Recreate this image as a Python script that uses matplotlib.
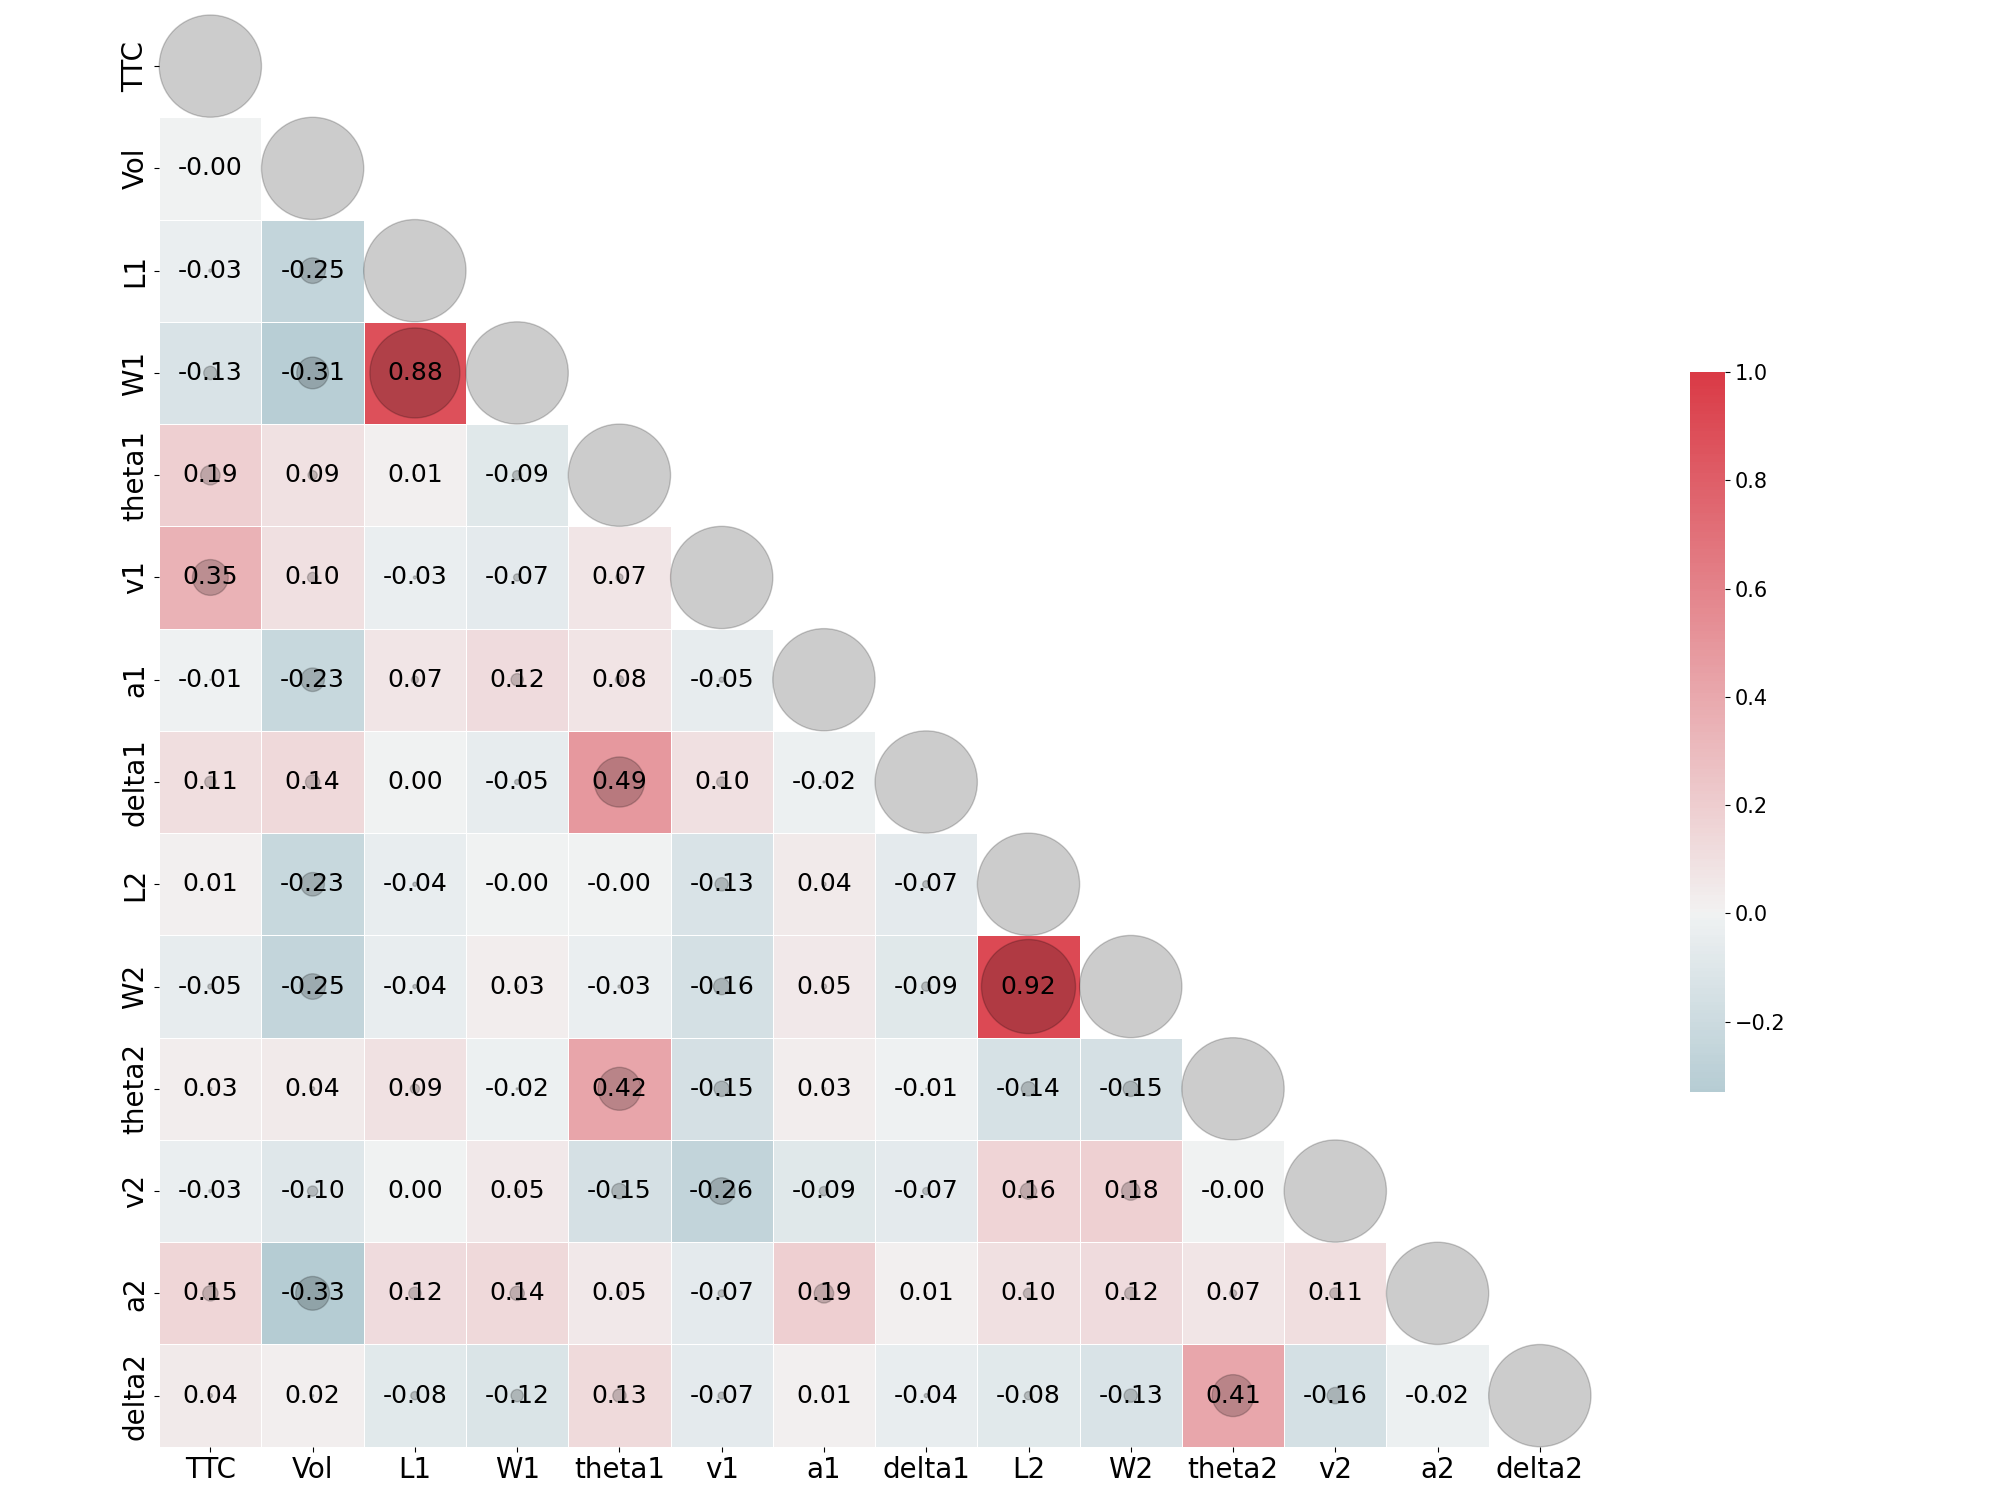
import numpy as np
import pandas as pd
import matplotlib
matplotlib.use("Agg")
import matplotlib.pyplot as plt
import seaborn as sns

labels = ["TTC", "Vol", "L1", "W1", "theta1", "v1", "a1", "delta1",
          "L2", "W2", "theta2", "v2", "a2", "delta2"]

# lower-triangle rows (values left of the diagonal)
row_TTC = []
row_Vol = [-0.0]
row_L1 = [-0.03, -0.25]
row_W1 = [-0.13, -0.31, 0.88]
row_theta1 = [0.19, 0.09, 0.01, -0.09]
row_v1 = [0.35, 0.10, -0.03, -0.07, 0.07]
row_a1 = [-0.01, -0.23, 0.07, 0.12, 0.08, -0.05]
row_delta1 = [0.11, 0.14, 0.00, -0.05, 0.49, 0.10, -0.02]
row_L2 = [0.01, -0.23, -0.04, -0.0, -0.0, -0.13, 0.04, -0.07]
row_W2 = [-0.05, -0.25, -0.04, 0.03, -0.03, -0.16, 0.05, -0.09, 0.92]
row_theta2 = [0.03, 0.04, 0.09, -0.02, 0.42, -0.15, 0.03, -0.01, -0.14, -0.15]
row_v2 = [-0.03, -0.10, 0.00, 0.05, -0.15, -0.26, -0.09, -0.07, 0.16, 0.18, -0.0]
row_a2 = [0.15, -0.33, 0.12, 0.14, 0.05, -0.07, 0.19, 0.01, 0.10, 0.12, 0.07, 0.11]
row_delta2 = [0.04, 0.02, -0.08, -0.12, 0.13, -0.07, 0.01, -0.04, -0.08, -0.13, 0.41, -0.16, -0.02]

rows = [row_TTC, row_Vol, row_L1, row_W1, row_theta1, row_v1, row_a1, row_delta1,
        row_L2, row_W2, row_theta2, row_v2, row_a2, row_delta2]

n = len(labels)
M = np.eye(n)
for i, r in enumerate(rows):
    for j, v in enumerate(r):
        M[i, j] = v
        M[j, i] = v
corr = pd.DataFrame(M, index=labels, columns=labels)

mask = np.triu(np.ones_like(M, dtype=bool))

fig = plt.figure(figsize=(20, 15), dpi=100)
ax = fig.add_axes([0.0794, 0.0355, 0.7163, 0.9545])
cax = fig.add_axes([0.845, 0.272, 0.0175, 0.48])

cmap = sns.diverging_palette(220, 10, as_cmap=True)
vmin = np.min(M[~mask])
sns.heatmap(corr, mask=mask, cmap=cmap, vmin=vmin, vmax=1.0, center=0,
            square=True, linewidths=0.5, annot=True, fmt=".2f",
            annot_kws={"size": 18, "color": "black"},
            ax=ax, cbar_ax=cax)

ax.tick_params(axis="both", labelsize=20)
cax.tick_params(labelsize=15)

# circles sized by |r|
fig.canvas.draw()
p0 = ax.transData.transform((0, 0))
p1 = ax.transData.transform((1, 0))
cell_pt = abs(p1[0] - p0[0]) * 72.0 / fig.dpi
xs, ys, ss = [], [], []
for i in range(n):
    for j in range(i + 1):
        xs.append(j + 0.5)
        ys.append(i + 0.5)
        ss.append((cell_pt * abs(M[i, j])) ** 2)
ax.scatter(xs, ys, s=ss, c="black", alpha=0.2, edgecolors="black",
           linewidths=1, zorder=3, clip_on=False)

fig.savefig("out.png", dpi=100)
